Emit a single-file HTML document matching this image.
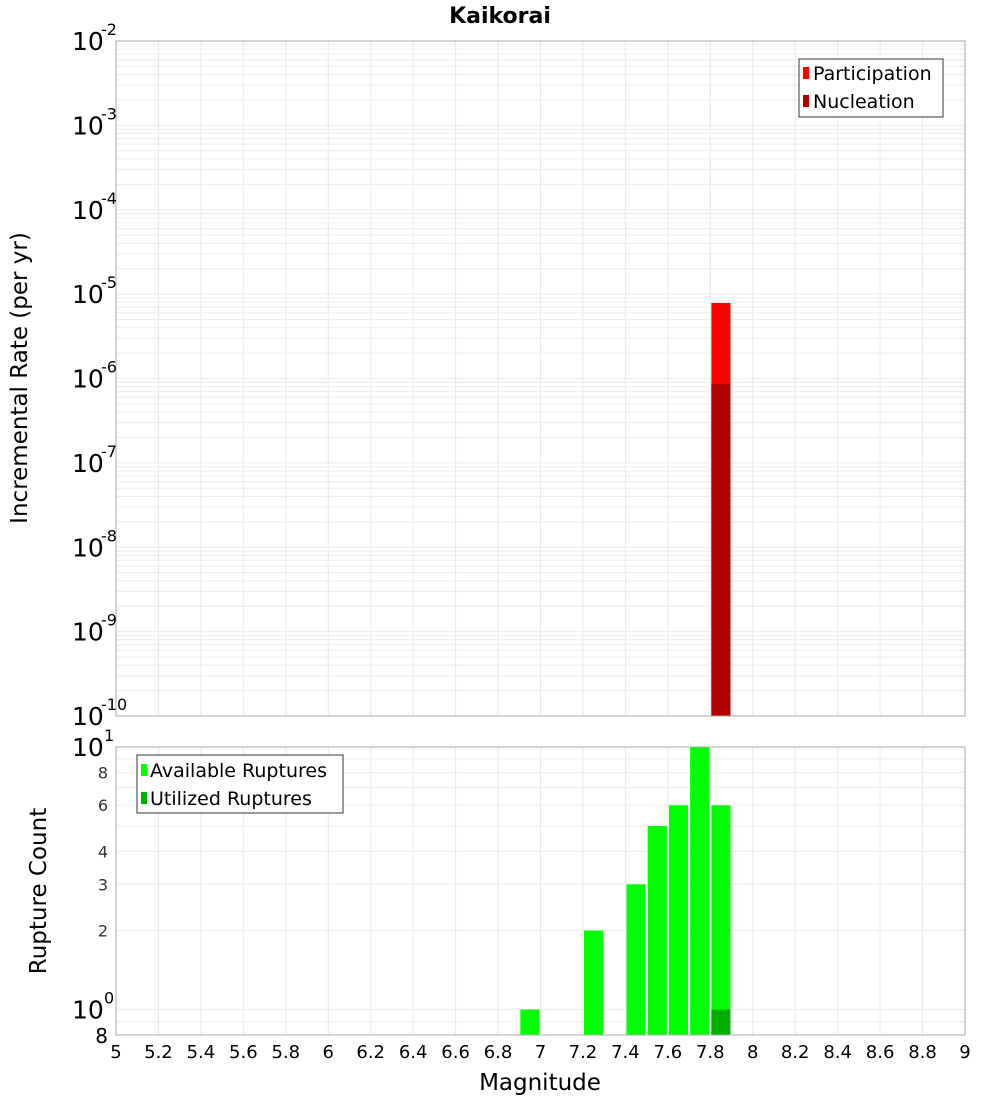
<!DOCTYPE html>
<html><head><meta charset="utf-8"><style>
body{margin:0;background:#fff;}
svg{display:block;font-family:"DejaVu Sans","Liberation Sans",sans-serif;}
</style></head><body>
<svg id="chart" width="1000" height="1100" xmlns="http://www.w3.org/2000/svg">
<text x="500" y="23" text-anchor="middle" font-size="22" font-weight="bold">Kaikorai</text>
<text transform="translate(27,378) rotate(-90)" text-anchor="middle" font-size="23">Incremental Rate (per yr)</text>
<text transform="translate(46,891) rotate(-90)" text-anchor="middle" font-size="23">Rupture Count</text>
<text x="540" y="1090" text-anchor="middle" font-size="23">Magnitude</text>
<g id="grid"></g><g id="bars"></g><g id="axes"></g>
<g>
<rect x="799" y="59" width="144" height="58" fill="#fff" stroke="#333"/>
<rect x="803" y="67" width="6" height="12" fill="#ff0000"/>
<text x="813" y="80" font-size="19">Participation</text>
<rect x="803" y="95" width="6" height="12" fill="#b00000"/>
<text x="813" y="108" font-size="19">Nucleation</text>
</g>
<g>
<rect x="137" y="755" width="206" height="58" fill="#fff" stroke="#333"/>
<rect x="141" y="764" width="6" height="12" fill="#00ff00"/>
<text x="150" y="777" font-size="19">Available Ruptures</text>
<rect x="141" y="792" width="6" height="12" fill="#00b000"/>
<text x="150" y="805" font-size="19">Utilized Ruptures</text>
</g>
</svg>
<script>
const NS="http://www.w3.org/2000/svg";
const rateMags=[7.85];
const participation=[7.85e-6];
const nucleation=[8.6e-7];
const countMags=[6.95,7.25,7.45,7.55,7.65,7.75,7.85];
const available=[1,2,3,5,6,10,6];
const utilizedMags=[7.85];
const utilized=[1];
const xTicks=["5","5.2","5.4","5.6","5.8","6","6.2","6.4","6.6","6.8","7","7.2","7.4","7.6","7.8","8","8.2","8.4","8.6","8.8","9"];
const topExps=[-2,-3,-4,-5,-6,-7,-8,-9,-10];
const botTicks=["8","6","4","3","2"];

const L=116,R=965,T1=41,B1=716,T2=747,B2=1035;
const X=m=>L+(m-5)/(9-5)*(R-L);
const Y1=v=>T1+(-2-Math.log10(v))/8*(B1-T1);
const Y2=v=>T2+(1-Math.log10(v))/(1-Math.log10(0.8))*(B2-T2);
const grid=document.getElementById('grid'),bars=document.getElementById('bars'),axes=document.getElementById('axes');
function mk(p,tag,a){const e=document.createElementNS(NS,tag);for(const k in a)e.setAttribute(k,a[k]);p.appendChild(e);return e;}
xTicks.forEach(t=>{const x=X(+t);
 const g1=mk(grid,'line',{x1:x,x2:x,y1:T1,y2:B1,stroke:'#e8e8e8'});
 
 
 const g2=mk(grid,'line',{x1:x,x2:x,y1:T2,y2:B2,stroke:'#e8e8e8'});
 
 
});
for(let e=-10;e<-2;e++)for(let k=1;k<10;k++){const y=Y1(k*Math.pow(10,e));
 const g=mk(grid,'line',{x1:L,x2:R,y1:y,y2:y,stroke:'#ececec'});
 
 }
[0.8,0.9,1,2,3,4,5,6,7,8,9].forEach(v=>{const y=Y2(v);
 const g=mk(grid,'line',{x1:L,x2:R,y1:y,y2:y,stroke:'#ececec'});
 
 });
const bw=(X(0.1)-X(0))*0.9;
rateMags.forEach((m,i)=>{
 const r=mk(bars,'rect',{x:X(m)-bw/2,y:Y1(participation[i]),width:bw,height:B1-Y1(participation[i]),fill:'#ff0000'});
 
 
 const n=mk(bars,'rect',{x:X(m)-bw/2,y:Y1(nucleation[i]),width:bw,height:B1-Y1(nucleation[i]),fill:'#b00000'});
 
 
});
countMags.forEach((m,i)=>{
 const r=mk(bars,'rect',{x:X(m)-bw/2,y:Y2(available[i]),width:bw,height:B2-Y2(available[i]),fill:'#00ff00'});
 
 
});
utilizedMags.forEach((m,i)=>{
 const r=mk(bars,'rect',{x:X(m)-bw/2,y:Y2(utilized[i]),width:bw,height:B2-Y2(utilized[i]),fill:'#00b000'});
 
 
});
const f1=mk(axes,'rect',{x:L,y:T1,width:R-L,height:B1-T1,fill:'none',stroke:'#aaa'});


const f2=mk(axes,'rect',{x:L,y:T2,width:R-L,height:B2-T2,fill:'none',stroke:'#aaa'});


xTicks.forEach(t=>{const tx=mk(axes,'text',{x:X(+t),y:1058,'text-anchor':'middle','font-size':18});tx.textContent=t;
 
 });
topExps.forEach(e=>{const y=Y1(Math.pow(10,e));
 const tx=mk(axes,'text',{x:72,y:y+9,'font-size':25});tx.textContent='10';
 
 
 const s=mk(axes,'text',{x:101,y:y-6,'font-size':16});s.textContent=String(e);
 
 });
[[10,'1'],[1,'0']].forEach(([v,ex])=>{const y=Y2(v);
 const tx=mk(axes,'text',{x:72,y:y+9,'font-size':25});tx.textContent='10';
 
 
 const s=mk(axes,'text',{x:104,y:y-6,'font-size':16});s.textContent=ex;
 
 });
botTicks.forEach(t=>{const y=Y2(+t);
 const tx=mk(axes,'text',{x:108,y:y+6,'text-anchor':'end','font-size':16,fill:'#333'});tx.textContent=t;
 
 });
const t8=mk(axes,'text',{x:108,y:Y2(0.8)+8,'text-anchor':'end','font-size':20});t8.textContent='8';


</script>
</body></html>
